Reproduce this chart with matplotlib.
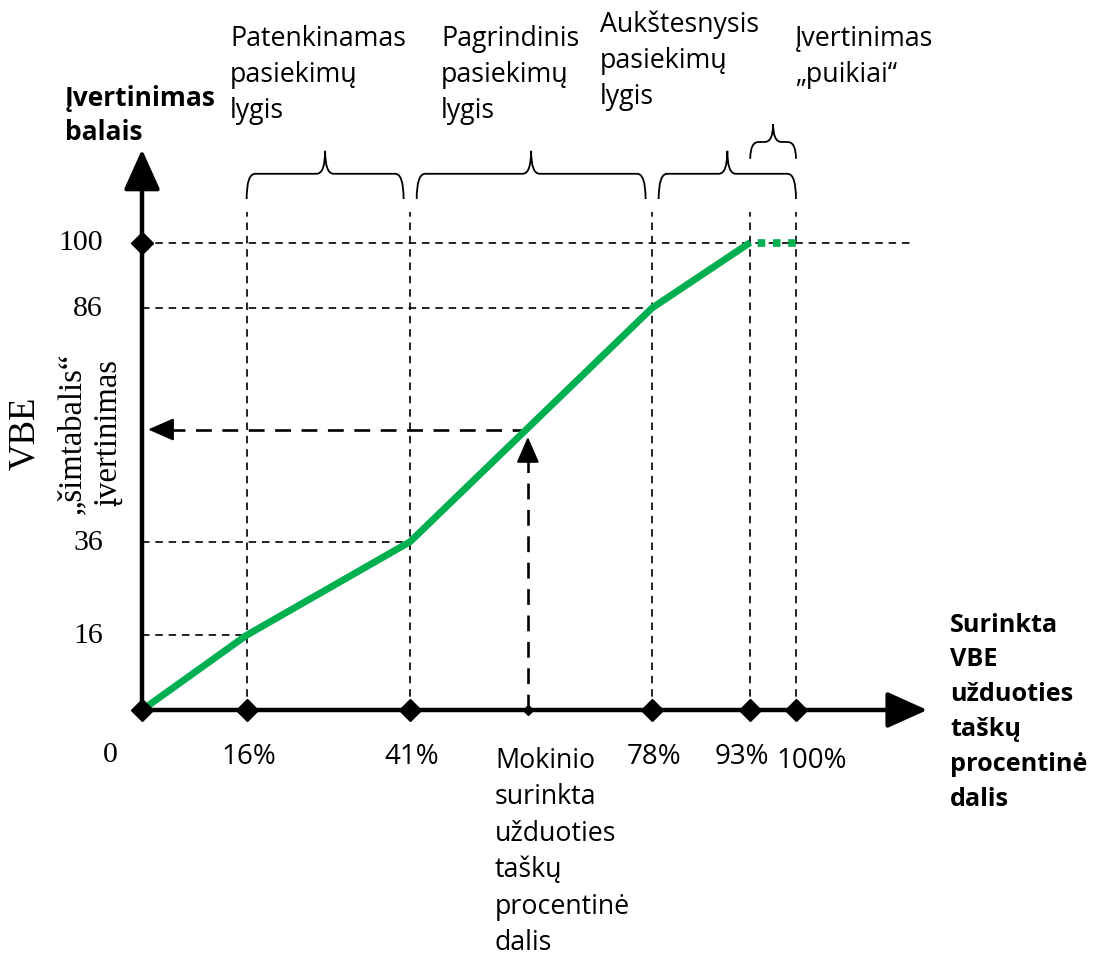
import numpy as np
import matplotlib.pyplot as plt
from matplotlib.path import Path
from matplotlib.patches import PathPatch

# chart values
pct_points = [0, 16, 41, 78, 93]          # collected task points, %
score_points = [0, 16, 36, 86, 100]       # VBE hundred-point score
excellent_pct = [93, 100]
excellent_score = [100, 100]
x_marks = [0, 16, 41, 78, 93, 100]
x_labels = ['16%', '41%', '78%', '93%', '100%']
y_marks = [16, 36, 86, 100]
y_labels = ['16', '36', '86', '100']
student_pct = 59
student_score = 60
levels = [
    ('Patenkinamas\npasiekimų\nlygis', 16, 41),
    ('Pagrindinis\npasiekimų\nlygis', 41, 78),
    ('Aukštesnysis\npasiekimų\nlygis', 78, 100),
    ('Įvertinimas\n„puikiai“', 93, 100),
]

W, H = 1093, 954
X0, Y0 = 142, 711          # pixel of the origin
SX, SY = 6.54, 4.675       # pixels per unit
GREEN = '#00B050'
SANS = 'Open Sans'
SERIF = 'Liberation Serif'


def px(x, y):
    # pixel position -> figure fraction (only used for placing text)
    return x / W, 1 - y / H


fig = plt.figure(figsize=(W / 100, H / 100), dpi=100)
ax = fig.add_axes([0, 0, 1, 1])
ax.axis('off')
ax.set_xlim(-X0 / SX, (W - X0) / SX)
ax.set_ylim(-(H - Y0) / SY, Y0 / SY)

# thin dashed guide lines
guide = dict(color='black', lw=1.2, ls=(0, (4.5, 3.5)), zorder=1)
for p, s in zip(pct_points[1:4], score_points[1:4]):
    ax.plot([0, p], [s, s], **guide)
ax.plot([0, 117.7], [100, 100], **guide)
for p in x_marks[1:]:
    ax.plot([p, p], [0, 106.5], **guide)

# axes with arrow heads
ax.plot([0, 0], [0, 113], color='black', lw=3.2, zorder=3, solid_capstyle='butt')
ax.plot([0, 116], [0, 0], color='black', lw=3.2, zorder=3, solid_capstyle='butt')
head = dict(arrowstyle='-|>,head_length=1.0,head_width=0.45', color='black',
            lw=3, mutation_scale=25)
ax.annotate('', xy=(0, 120.5), xytext=(0, 112), arrowprops=head, zorder=3)
ax.annotate('', xy=(120.5, 0), xytext=(114, 0), arrowprops=head, zorder=3)

# green score curve
ax.plot(pct_points, score_points, color=GREEN, lw=5, zorder=4, solid_capstyle='butt')
ax.plot(excellent_pct, excellent_score, color=GREEN, lw=5.5, ls=(1, (1, 1)), zorder=4)

# diamonds on the axes
ax.plot(x_marks, [0] * len(x_marks), 'D', color='black', ms=11, zorder=5)
ax.plot([0], [100], 'D', color='black', ms=11, zorder=5)
ax.plot([student_pct], [0], 'D', color='black', ms=5, zorder=5)

# student example: dashed arrows up to the curve and back to the score axis
thick = dict(color='black', lw=1.9, ls=(0, (6, 4)), zorder=2)
ax.plot([student_pct, student_pct], [0, student_score - 4], **thick)
ax.plot([student_pct, 2.5], [student_score, student_score], **thick)
small_head = dict(arrowstyle='-|>,head_length=0.8,head_width=0.35', color='black',
                  lw=1.5, mutation_scale=20)
ax.annotate('', xy=(student_pct, student_score - 1), xytext=(student_pct, student_score - 5),
            arrowprops=small_head, zorder=2)
ax.annotate('', xy=(0.5, student_score), xytext=(4.5, student_score),
            arrowprops=small_head, zorder=2)


def brace(a, b, y_tip, y_bar, y_peak, r=1.3):
    m = (a + b) / 2
    verts = [(a, y_tip), (a, y_bar), (a + r, y_bar),
             (m - r, y_bar), (m, y_bar), (m, y_peak),
             (m, y_bar), (m + r, y_bar),
             (b - r, y_bar), (b, y_bar), (b, y_tip)]
    codes = [Path.MOVETO, Path.CURVE3, Path.CURVE3,
             Path.LINETO, Path.CURVE3, Path.CURVE3,
             Path.CURVE3, Path.CURVE3,
             Path.LINETO, Path.CURVE3, Path.CURVE3]
    ax.add_patch(PathPatch(Path(verts, codes), fill=False, lw=1.3, color='black'))


# level braces and their captions
brace(levels[0][1], levels[0][2] - 1, 109.3, 114.7, 119.6)
brace(levels[1][1] + 1, levels[1][2] - 1, 109.3, 114.7, 119.6)
brace(levels[2][1] + 1, levels[2][2], 109.3, 114.7, 119.6)
brace(levels[3][1], levels[3][2], 117.9, 121.5, 125.3)

# va='baseline' anchors the last line of a multi-line text
caption = dict(fontsize=19.3, family=SANS, va='baseline', ha='left', linespacing=1.37)
fig.text(*px(230, 118), levels[0][0], **caption)
fig.text(*px(441, 118), levels[1][0], **caption)
fig.text(*px(600, 104), levels[2][0], **caption)
fig.text(*px(795, 82), levels[3][0], **caption)

# axis titles
fig.text(*px(65, 140), 'Įvertinimas\nbalais', fontsize=19, family=SANS, weight='bold',
         va='baseline', ha='left', linespacing=1.33)
fig.text(*px(950, 806), 'Surinkta\nVBE\nužduoties\ntaškų\nprocentinė\ndalis',
         fontsize=18.2, family=SANS, weight='bold', va='baseline', ha='left',
         linespacing=1.52)
fig.text(*px(25, 433), 'VBE', fontsize=26.5, family=SERIF, rotation=90,
         va='center', ha='center')
fig.text(*px(90, 433), '„šimtabalis“\nįvertinimas', fontsize=23.5, family=SERIF,
         rotation=90, va='center', ha='center', linespacing=1.25)

# tick labels
for v, lab in zip(y_marks, y_labels):
    ax.text(-6.0, v, lab, fontsize=21.5, family=SERIF, ha='right', va='center')
fig.text(*px(110, 755), '0', fontsize=21.5, family=SERIF, ha='center', va='center')
for v, lab in zip(x_marks[1:], x_labels):
    shift = {93: -1.2, 100: 2.4}.get(v, 0.3)
    ax.text(v + shift, -9.8 if v != 100 else -10.6, lab,
            fontsize=20, family=SANS, ha='center', va='center')

fig.text(*px(495, 950), 'Mokinio\nsurinkta\nužduoties\ntaškų\nprocentinė\ndalis',
         fontsize=19.3, family=SANS, va='baseline', ha='left', linespacing=1.4)

fig.savefig('out.png', dpi=100, facecolor='white')
